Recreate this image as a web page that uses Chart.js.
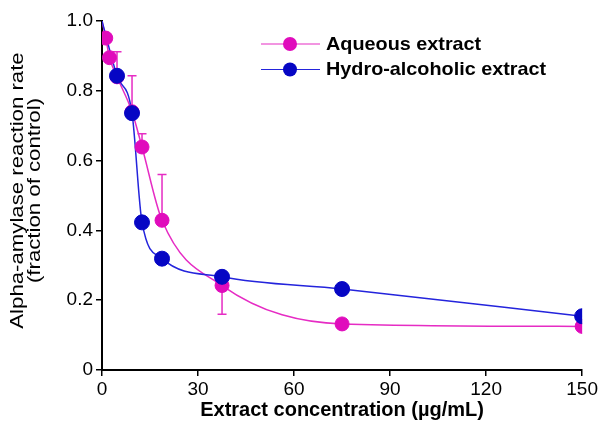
<!DOCTYPE html>
<html lang="en">
<head>
    <meta charset="UTF-8">
    <title>Alpha-amylase reaction rate</title>
    <script src="https://cdn.jsdelivr.net/npm/chart.js"></script>
    <style>
        body { margin: 0; background: #fff; }
    </style>
</head>
<body>
    <canvas id="grafico" width="600" height="436"></canvas>

    <script>
        // Concentrations (µg/mL)
        const aqueousX = [1.17, 2.34, 4.69, 9.38, 12.5, 18.75, 37.5, 75, 150];
        const aqueousY = [0.951, 0.895, 0.84, 0.74, 0.639, 0.429, 0.242, 0.132, 0.125];
        // error bars: end value of the bar (null = none)
        const aqueousErr = [null, null, 0.912, 0.843, 0.677, 0.56, 0.16, null, null];

        const hydroX = [4.69, 9.38, 12.5, 18.75, 37.5, 75, 150];
        const hydroY = [0.843, 0.736, 0.423, 0.319, 0.267, 0.232, 0.154];

        // both fitted curves start from the control value
        const fitStartX = 0;
        const fitStartY = 1.0;

        const xTicks = [0, 30, 60, 90, 120, 150];
        const yTicks = [0, 0.2, 0.4, 0.6, 0.8, 1.0];

        const seriesNames = ['Aqueous extract', 'Hydro-alcoholic extract'];
        const yTitle = ['Alpha-amylase reaction rate', '(fraction of control)'];
        const magenta = '#e00cbc';
        const magentaLine = '#e62cc4';
        const blue = '#0606c4';
        const blueLine = '#2424dc';

        const FONT = "'Liberation Sans', Arial, sans-serif";

        function toPoints(xs, ys) {
            return xs.map((x, i) => ({ x: x, y: ys[i] }));
        }

        const aqueousCurve = [{ x: fitStartX, y: fitStartY }].concat(toPoints(aqueousX, aqueousY));
        const hydroCurve = [{ x: fitStartX, y: fitStartY }].concat(toPoints(hydroX, hydroY));

        // error bars behind the markers
        const errorBars = {
            id: 'errorBars',
            beforeDatasetsDraw(chart) {
                const ctx = chart.ctx;
                const xs = chart.scales.x, ys = chart.scales.y;
                ctx.save();
                ctx.strokeStyle = magentaLine;
                ctx.lineWidth = 1.5;
                aqueousErr.forEach((e, i) => {
                    if (e === null) return;
                    const px = xs.getPixelForValue(aqueousX[i]);
                    const p0 = ys.getPixelForValue(aqueousY[i]);
                    const p1 = ys.getPixelForValue(e);
                    ctx.beginPath();
                    ctx.moveTo(px, p0);
                    ctx.lineTo(px, p1);
                    ctx.moveTo(px - 4.5, p1);
                    ctx.lineTo(px + 4.5, p1);
                    ctx.stroke();
                });
                ctx.restore();
            }
        };

        // legend (line with a marker in the middle) and the two-line y title
        const extras = {
            id: 'extras',
            afterDraw(chart) {
                const ctx = chart.ctx;
                const items = [
                    { text: seriesNames[0], line: magentaLine, dot: magenta, y: 44 },
                    { text: seriesNames[1], line: blueLine, dot: blue, y: 69.5 }
                ];
                ctx.save();
                items.forEach(it => {
                    ctx.strokeStyle = it.line;
                    ctx.lineWidth = 1.2;
                    ctx.beginPath();
                    ctx.moveTo(261, it.y);
                    ctx.lineTo(320, it.y);
                    ctx.stroke();
                    ctx.fillStyle = it.dot;
                    ctx.beginPath();
                    ctx.arc(290, it.y, 7, 0, Math.PI * 2);
                    ctx.fill();
                    // the original font runs a bit wide
                    ctx.save();
                    ctx.translate(326, it.y + 1);
                    ctx.scale(1.12, 1);
                    ctx.fillStyle = '#000';
                    ctx.font = 'bold 17.7px ' + FONT;
                    ctx.textBaseline = 'middle';
                    ctx.fillText(it.text, 0, 0);
                    ctx.restore();
                });

                ctx.save();
                ctx.translate(0, 190.5);
                ctx.rotate(-Math.PI / 2);
                ctx.scale(1.2, 1);
                ctx.fillStyle = '#000';
                ctx.font = '18.5px ' + FONT;
                ctx.textAlign = 'center';
                ctx.textBaseline = 'middle';
                ctx.fillText(yTitle[0], 0, 18);
                ctx.fillText(yTitle[1], 0, 34.5);
                ctx.restore();
                ctx.restore();
            }
        };

        const ctx = document.getElementById('grafico').getContext('2d');
        const chart = new Chart(ctx, {
            type: 'scatter',
            data: {
                datasets: [{
                    label: seriesNames[0] + ' fit',
                    data: aqueousCurve,
                    showLine: true,
                    borderColor: magentaLine,
                    borderWidth: 1.5,
                    pointRadius: 0,
                    cubicInterpolationMode: 'monotone',
                    order: 5
                }, {
                    label: seriesNames[1] + ' fit',
                    data: hydroCurve,
                    showLine: true,
                    borderColor: blueLine,
                    borderWidth: 1.5,
                    pointRadius: 0,
                    cubicInterpolationMode: 'monotone',
                    order: 4
                }, {
                    label: seriesNames[0],
                    data: toPoints(aqueousX, aqueousY),
                    showLine: false,
                    backgroundColor: magenta,
                    borderColor: magenta,
                    pointRadius: 7,
                    order: 2
                }, {
                    label: seriesNames[1],
                    data: toPoints(hydroX, hydroY),
                    showLine: false,
                    backgroundColor: blue,
                    borderColor: blue,
                    pointRadius: 7.5,
                    order: 1
                }]
            },
            options: {
                responsive: false,
                animation: false,
                layout: { padding: { top: 21, right: 12, left: 0, bottom: 0 } },
                plugins: {
                    legend: { display: false },
                    tooltip: { enabled: false }
                },
                scales: {
                    x: {
                        type: 'linear',
                        min: 0,
                        max: 150,
                        afterBuildTicks: s => { s.ticks = xTicks.map(v => ({ value: v })); },
                        afterFit: s => { s.height = 66; },
                        grid: { display: true, drawOnChartArea: false, drawTicks: true, tickLength: 6, color: '#000', lineWidth: 1.5 },
                        border: { display: true, color: '#000', width: 2 },
                        ticks: { color: '#000', font: { family: FONT, size: 19 }, padding: 2, maxRotation: 0 },
                        title: {
                            display: true,
                            text: 'Extract concentration (µg/mL)',
                            color: '#000',
                            font: { family: FONT, size: 20, weight: 'bold' },
                            padding: { top: 0, bottom: 14 }
                        }
                    },
                    y: {
                        min: 0,
                        max: 1,
                        afterBuildTicks: s => { s.ticks = yTicks.map(v => ({ value: v })); },
                        afterFit: s => { s.width = 102; },
                        grid: { display: true, drawOnChartArea: false, drawTicks: true, tickLength: 6, color: '#000', lineWidth: 1.5 },
                        border: { display: true, color: '#000', width: 2 },
                        ticks: {
                            color: '#000',
                            font: { family: FONT, size: 19 },
                            padding: 3,
                            callback: v => v === 0 ? '0' : v.toFixed(1)
                        }
                    }
                }
            },
            plugins: [errorBars, extras]
        });
    </script>
</body>
</html>
